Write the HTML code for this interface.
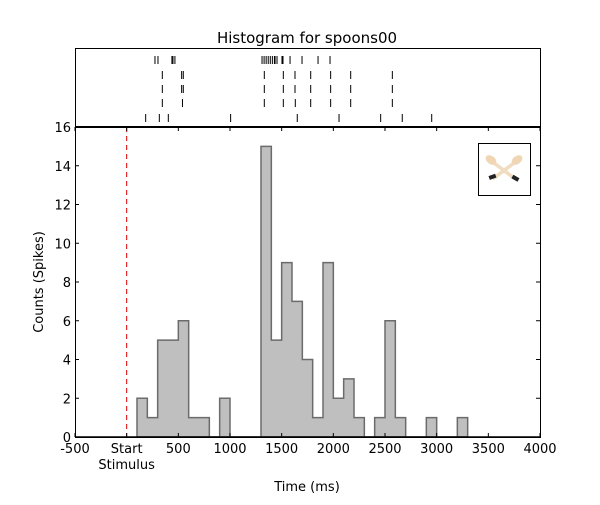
<!DOCTYPE html>
<html><head><meta charset="utf-8"><style>
body{margin:0;background:#fff;}
svg text{font-family:"DejaVu Sans","Liberation Sans",sans-serif;font-size:13px;fill:#000;}
</style></head><body>
<svg id="c" width="600" height="500" xmlns="http://www.w3.org/2000/svg">
<rect width="600" height="500" fill="#fff"/>
<text x="307" y="43" text-anchor="middle" style="font-size:15px">Histogram for spoons00</text>
<g id="hist"></g>
<g id="raster"></g>
<g id="axes"></g>
<g>
<rect x="478.5" y="143.5" width="52" height="52" fill="#fff" stroke="#000" stroke-width="1"/>
<g transform="translate(504,169)">
<line x1="-14" y1="-9" x2="10" y2="9" stroke="#f0dcc0" stroke-width="3.5" stroke-linecap="round"/>
<ellipse cx="-13" cy="-9" rx="6" ry="4" transform="rotate(37 -13 -9)" fill="#f0d6b4"/>
<line x1="14" y1="-9" x2="-10" y2="9" stroke="#f0dcc0" stroke-width="3.5" stroke-linecap="round"/>
<ellipse cx="13" cy="-9" rx="6" ry="4" transform="rotate(-37 13 -9)" fill="#f0d6b4"/>
<rect x="-15" y="6" width="7" height="4" fill="#222" transform="rotate(-20 -12 8)"/>
<rect x="8" y="7" width="7" height="4" fill="#222" transform="rotate(30 11 9)"/>
</g></g>
<text x="307" y="491" text-anchor="middle">Time (ms)</text>
<text transform="translate(43,282) rotate(-90)" text-anchor="middle">Counts (Spikes)</text>
</svg>
<script>
const binStarts=[100,200,300,400,500,600,700,800,900,1000,1100,1200,1300,1400,1500,1600,1700,1800,1900,2000,2100,2200,2300,2400,2500,2600,2700,2800,2900,3000,3100,3200];
const counts=[2,1,5,5,6,1,1,0,2,0,0,0,15,5,9,7,4,1,9,2,3,1,0,1,6,1,0,0,1,0,0,1];
const binWidth=100;
const xTicks=[-500,0,500,1000,1500,2000,2500,3000,3500,4000];
const xTickLabels=["-500","Start","500","1000","1500","2000","2500","3000","3500","4000"];
const yTicks=[0,2,4,6,8,10,12,14,16];
const trial1=[274,303,438,448,467,1310,1330,1350,1370,1390,1410,1430,1436,1455,1503,1513,1581,1697,1852,1968];
const trial2=[345,532,548,1332,1516,1629,1781,1974,2168,2571];
const trial3=[345,532,548,1332,1516,1629,1781,1974,2168,2571];
const trial4=[345,540,1332,1516,1632,1781,1974,2168,2571];
const trial5=[184,316,403,1006,1651,2055,2458,2667,2952];
const trials=[trial1,trial2,trial3,trial4,trial5];
const stimulusTime=0;

const NS="http://www.w3.org/2000/svg";
const L=75,R=540,T=127,B=437,RT=48;
const x=v=>L+(v+500)/4500*(R-L);
const y=v=>B-v/16*(B-T);
function mk(tag,a,p){const e=document.createElementNS(NS,tag);for(const k in a)e.setAttribute(k,a[k]);p.appendChild(e);return e;}
const hist=document.getElementById('hist'),raster=document.getElementById('raster'),axes=document.getElementById('axes');

// histogram step path
let d="M"+x(binStarts[0])+","+y(0);
binStarts.forEach((s,i)=>{d+=" L"+x(s)+","+y(counts[i])+" L"+x(s+binWidth)+","+y(counts[i]);});
d+=" L"+x(binStarts[binStarts.length-1]+binWidth)+","+y(0)+" Z";
const hp=mk('path',{d:d,fill:'#bfbfbf',stroke:'#6b6b6b','stroke-width':1.5},hist);



// stimulus line
const sl=mk('line',{x1:x(stimulusTime),x2:x(stimulusTime),y1:T,y2:B,stroke:'#d00','stroke-width':1,'stroke-dasharray':'5,4'},hist);



// raster
const rowY=[60,75,89,103,118];
trials.forEach((tr,r)=>{tr.forEach(t=>{
  const tk=mk('line',{x1:x(t),x2:x(t),y1:rowY[r]-4,y2:rowY[r]+4,stroke:'#000','stroke-width':1},raster);
  
  
});});

// frames
mk('rect',{x:L+0.5,y:RT+0.5,width:R-L,height:B-RT,fill:'none',stroke:'#000','stroke-width':1},axes);
mk('line',{x1:L,x2:R+1,y1:T,y2:T,stroke:'#000','stroke-width':2},axes);
mk('line',{x1:L,x2:R+1,y1:B,y2:B,stroke:'#000','stroke-width':1.5},axes);

xTicks.forEach((v,i)=>{
  mk('line',{x1:x(v),x2:x(v),y1:B,y2:B-4,stroke:'#000'},axes);
  mk('line',{x1:x(v),x2:x(v),y1:T,y2:T+4,stroke:'#000'},axes);
  const t=mk('text',{x:x(v),y:B+16,'text-anchor':'middle'},axes);
  t.textContent=xTickLabels[i];
  
  
});
const st=mk('text',{x:x(0),y:B+32,'text-anchor':'middle'},axes);
st.textContent="Stimulus";



yTicks.forEach(v=>{
  mk('line',{x1:L,x2:L+4,y1:y(v),y2:y(v),stroke:'#000'},axes);
  mk('line',{x1:R,x2:R-4,y1:y(v),y2:y(v),stroke:'#000'},axes);
  const t=mk('text',{x:L-4,y:y(v)+5,'text-anchor':'end'},axes);
  t.textContent=String(v);
  
  
});
</script>
</body></html>
